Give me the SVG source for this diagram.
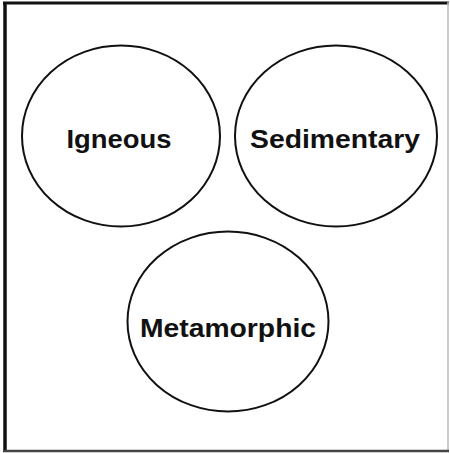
<svg xmlns="http://www.w3.org/2000/svg" width="450" height="453" viewBox="0 0 450 453">
<style>
.node ellipse{fill:#fff;stroke:#111;stroke-width:2}
.node text{font-family:"Liberation Sans",Arial,sans-serif;font-weight:bold;font-size:26px;fill:#111;text-anchor:middle}
</style>
<rect width="450" height="453" fill="#fff"/>
<g id="frame" fill="none">
<line x1="5" y1="2" x2="5" y2="452" stroke="#111" stroke-width="3.5"/>
<line x1="3" y1="3" x2="449" y2="3" stroke="#111" stroke-width="3"/>
<line x1="448" y1="2" x2="448" y2="452" stroke="#bbb" stroke-width="1.5"/>
<line x1="3" y1="451" x2="449" y2="451" stroke="#444" stroke-width="2.5"/>
</g>
<g id="connectors"></g>
<g id="igneous" class="node">
<ellipse cx="121" cy="136" rx="99" ry="90.5"/>
<text x="119" y="148" textLength="105" lengthAdjust="spacingAndGlyphs">Igneous</text>
</g>
<g id="sedimentary" class="node">
<ellipse cx="336" cy="136" rx="101" ry="90.5"/>
<text x="335" y="148" textLength="170" lengthAdjust="spacingAndGlyphs">Sedimentary</text>
</g>
<g id="metamorphic" class="node">
<ellipse cx="228" cy="321.5" rx="100.5" ry="90"/>
<text x="228" y="337" textLength="176" lengthAdjust="spacingAndGlyphs">Metamorphic</text>
</g>
</svg>
